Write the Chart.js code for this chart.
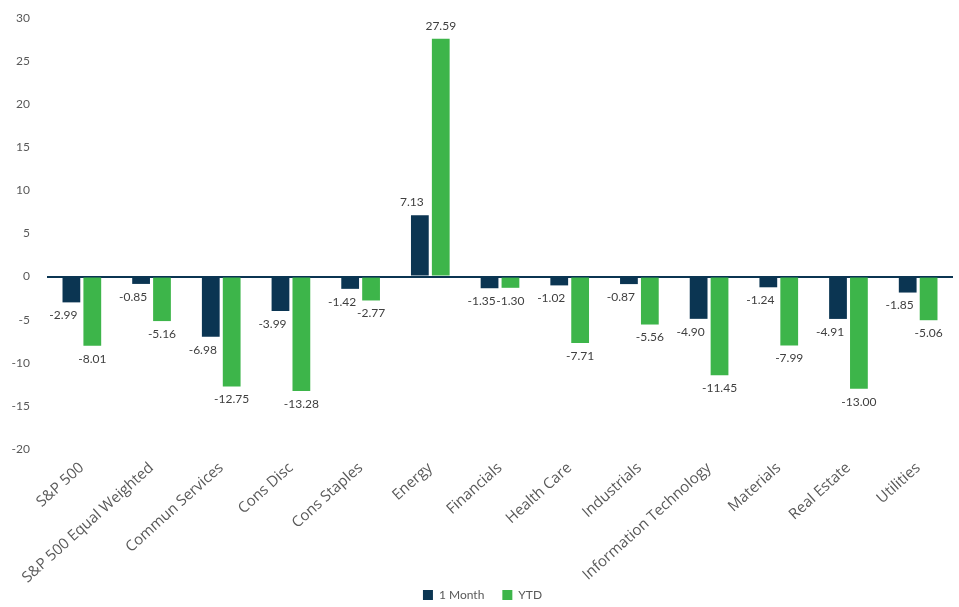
<!DOCTYPE html>
<html>
<head>
<meta charset="utf-8">
<script src="https://cdn.jsdelivr.net/npm/chart.js@4"></script>
<style>
    html, body { margin: 0; padding: 0; background: #fff; }
    #wrap { width: 959px; height: 607px; }
</style>
</head>
<body>
<div id="wrap"><canvas id="sectorChart" width="959" height="607"></canvas></div>
<script>
// Data
const sectors = ['S&P 500', 'S&P 500 Equal Weighted', 'Commun Services', 'Cons Disc', 'Cons Staples',
    'Energy', 'Financials', 'Health Care', 'Industrials', 'Information Technology',
    'Materials', 'Real Estate', 'Utilities'];
const oneMonth = [-2.99, -0.85, -6.98, -3.99, -1.42, 7.13, -1.35, -1.02, -0.87, -4.90, -1.24, -4.91, -1.85];
const ytd = [-8.01, -5.16, -12.75, -13.28, -2.77, 27.59, -1.30, -7.71, -5.56, -11.45, -7.99, -13.00, -5.06];

const NAVY = '#0b3552';
const GREEN = '#3db54a';
const TEXT = '#595959';
const FONT = 'Lato, "Open Sans", sans-serif';

// Value labels at the end of each bar
const barLabels = {
    id: 'barLabels',
    afterDatasetsDraw(chart) {
        const ctx = chart.ctx;
        ctx.save();
        ctx.font = '12px ' + FONT;
        ctx.fillStyle = '#404040';
        ctx.textAlign = 'center';
        ctx.textBaseline = 'middle';
        chart.data.datasets.forEach((ds, di) => {
            chart.getDatasetMeta(di).data.forEach((bar, i) => {
                const v = ds.data[i];
                const shift = di === 0 ? -8 : 0;
                const y = v < 0 ? bar.y + 13 : bar.y - 13;
                ctx.fillText(v.toFixed(2), bar.x + shift, y);
            });
        });
        ctx.restore();
    }
};

new Chart(document.getElementById('sectorChart').getContext('2d'), {
    type: 'bar',
    data: {
        labels: sectors,
        datasets: [
            { label: '1 Month', data: oneMonth, backgroundColor: NAVY,
              barPercentage: 0.85, categoryPercentage: 0.6 },
            { label: 'YTD', data: ytd, backgroundColor: GREEN,
              barPercentage: 0.85, categoryPercentage: 0.6 }
        ]
    },
    options: {
        responsive: false,
        animation: false,
        layout: { padding: { left: 12, right: 6, top: 18, bottom: -4 } },
        plugins: {
            legend: {
                position: 'bottom',
                labels: {
                    boxWidth: 10, boxHeight: 10, color: TEXT,
                    font: { family: FONT, size: 12 }, padding: 18
                }
            },
            tooltip: { enabled: false }
        },
        scales: {
            x: {
                grid: { display: false },
                border: { display: false },
                afterFit(scale) {
                    // rotated labels may hang past the plot edge and into the legend band
                    scale.paddingLeft = 0;
                    scale.paddingRight = 0;
                    scale.paddingTop = 0;
                    scale.height = 122;
                    scale._computeLabelArea = () => undefined;
                },
                ticks: {
                    color: TEXT, font: { family: '"Open Sans", sans-serif', size: 15 },
                    minRotation: 42, maxRotation: 42, autoSkip: false, padding: 2
                }
            },
            y: {
                min: -20, max: 30,
                border: { display: false },
                afterFit(scale) {
                    scale.width = 35;
                    scale.paddingTop = 0;
                    scale.paddingBottom = 0;
                },
                grid: {
                    color: c => c.tick && c.tick.value === 0 ? NAVY : 'rgba(0,0,0,0)',
                    lineWidth: c => c.tick && c.tick.value === 0 ? 2 : 0,
                    drawTicks: false
                },
                ticks: {
                    stepSize: 5, color: TEXT, padding: 17,
                    font: { family: FONT, size: 12 }
                }
            }
        }
    },
    plugins: [barLabels]
});
</script>
</body>
</html>
